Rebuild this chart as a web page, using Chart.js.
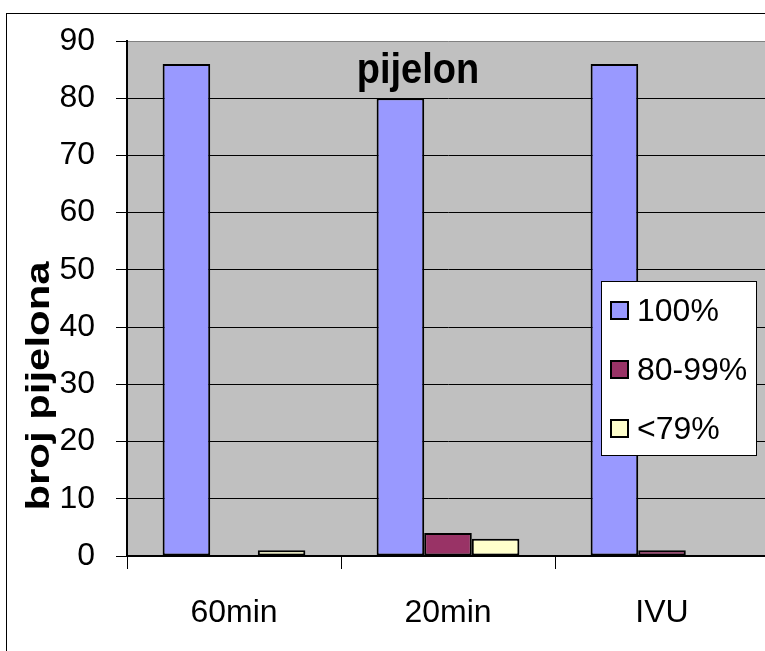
<!DOCTYPE html>
<html>
<head>
<meta charset="utf-8">
<script src="https://cdn.jsdelivr.net/npm/chart.js@4.4.0/dist/chart.umd.min.js"></script>
<style>
  html, body { margin: 0; padding: 0; background: #fff; overflow: hidden; }
  #wrap { width: 765px; height: 651px; overflow: hidden; }
</style>
</head>
<body>
<div id="wrap"><canvas id="chart" width="790" height="651"></canvas></div>
<script>
const categories = ['60min', '20min', 'IVU'];
const seriesNames = ['100%', '80-99%', '<79%'];
const full = [86, 80, 86];
const partial = [0, 4, 1];
const low = [1, 3, 0];
const seriesColors = ['#9999FF', '#993366', '#FFFFCC'];
const yTicks = [0, 10, 20, 30, 40, 50, 60, 70, 80, 90];

const FONT = '"Liberation Sans", Arial, sans-serif';

// frame + grey plot background
const backdrop = {
    id: 'backdrop',
    beforeDraw(chart) {
        const c = chart.ctx, a = chart.chartArea;
        c.save();
        c.fillStyle = '#fff';
        c.fillRect(0, 0, chart.width, chart.height);
        c.strokeStyle = '#000';
        c.lineWidth = 1;
        c.strokeRect(6.5, 13.5, 900, 800);
        c.fillStyle = '#C0C0C0';
        c.fillRect(a.left, a.top, a.right - a.left, a.bottom - a.top);
        c.restore();
    }
};

// title inside plot, rotated axis title, boxed legend
const overlay = {
    id: 'overlay',
    afterDraw(chart) {
        const c = chart.ctx;
        c.save();
        c.fillStyle = '#000';
        c.textAlign = 'center';
        c.textBaseline = 'alphabetic';

        c.save();
        c.translate(418, 83);
        c.scale(1, 1.12);
        c.font = 'bold 38px ' + FONT;
        c.fillText('pijelon', 0, 0);
        c.restore();

        c.save();
        c.translate(49, 386);
        c.rotate(-Math.PI / 2);
        c.scale(1.27, 1);
        c.font = 'bold 33px ' + FONT;
        c.fillText('broj pijelona', 0, 0);
        c.restore();

        // legend
        c.fillStyle = '#fff';
        c.fillRect(601, 281, 155, 174);
        c.strokeStyle = '#000';
        c.lineWidth = 1;
        c.strokeRect(601.5, 281.5, 155, 174);
        const rows = [311, 370, 429];
        chart.data.datasets.forEach((ds, i) => {
            const y = rows[i];
            c.fillStyle = ds.backgroundColor;
            c.fillRect(611, y - 9, 17, 17);
            c.lineWidth = 2;
            c.strokeStyle = '#000';
            c.strokeRect(611, y - 9, 17, 17);
            c.fillStyle = '#000';
            c.font = '32px ' + FONT;
            c.textAlign = 'left';
            c.textBaseline = 'middle';
            c.fillText(ds.label, 637, y + 1);
        });
        c.restore();
    }
};

const seriesData = [full, partial, low];

new Chart(document.getElementById('chart'), {
    type: 'bar',
    data: {
        labels: categories,
        datasets: seriesNames.map((name, i) => ({
            label: name,
            data: seriesData[i],
            backgroundColor: seriesColors[i],
            borderColor: '#000',
            borderWidth: 2,
            borderSkipped: false,
            categoryPercentage: 0.667,
            barPercentage: 1.0
        }))
    },
    options: {
        responsive: false,
        animation: false,
        layout: { padding: { top: 41, right: 21, left: 0, bottom: 0 } },
        plugins: {
            legend: { display: false },
            title: { display: false },
            tooltip: { enabled: false }
        },
        scales: {
            y: {
                min: 0,
                max: 90,
                afterBuildTicks: (s) => { s.ticks = yTicks.map(v => ({ value: v })); },
                afterFit: (s) => { s.width = 127; },
                ticks: {
                    color: '#000',
                    padding: 21,
                    font: { family: FONT, size: 32 }
                },
                grid: {
                    color: (ctx) => ctx.tick && ctx.tick.value === 90 ? '#808080' : '#000',
                    tickColor: '#000',
                    tickLength: 11,
                    lineWidth: 1
                },
                border: { color: '#000', width: 2 }
            },
            x: {
                afterFit: (s) => { s.height = 95; },
                ticks: {
                    color: '#000',
                    padding: 25,
                    font: { family: FONT, size: 32 }
                },
                grid: {
                    offset: true,
                    drawOnChartArea: false,
                    tickColor: '#000',
                    tickLength: 13,
                    lineWidth: 1
                },
                border: { color: '#000', width: 2 }
            }
        }
    },
    plugins: [backdrop, overlay]
});
</script>
</body>
</html>
